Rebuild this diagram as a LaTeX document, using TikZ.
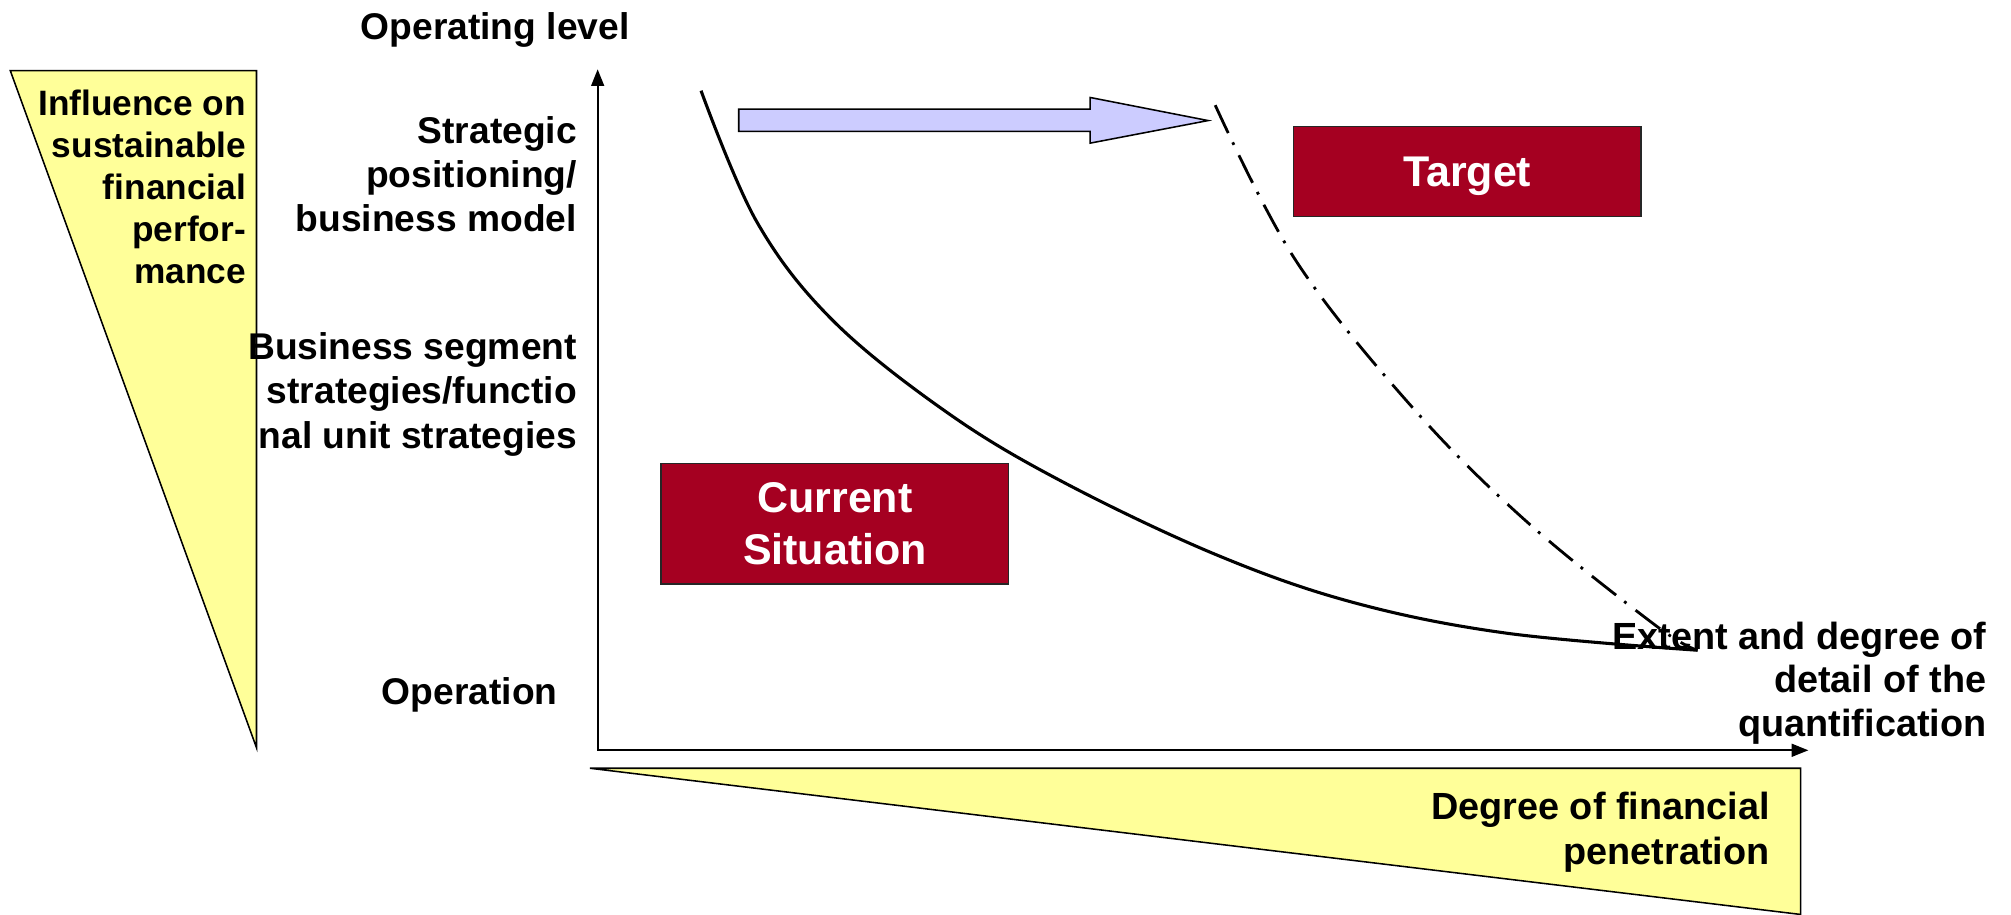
\documentclass[tikz,border=0pt]{standalone}
\usepackage{fontspec}
\setmainfont{Liberation Sans}
\usetikzlibrary{arrows.meta}
\definecolor{paleyellow}{HTML}{FFFF99}
\definecolor{boxred}{HTML}{A50021}
\definecolor{lavender}{HTML}{CCCCFF}
\begin{document}
\begin{tikzpicture}[x=1pt,y=-1pt,
  lbl/.style={font=\bfseries\fontsize{29}{34.5}\selectfont, inner sep=0pt, align=right, anchor=east},
  wedge/.style={draw=black, line width=1.2pt, fill=paleyellow, line join=miter},
  redbox/.style={draw=black!85, line width=1.1pt, fill=boxred, text=white,
    font=\bfseries\fontsize{33.5}{41}\selectfont, align=center, inner sep=0pt},
  axis/.style={line width=1.5pt, {Triangle[length=13pt,width=10pt]}-{Triangle[length=13pt,width=10pt]}},
  curve/.style={line width=2.4pt, line cap=butt},
  dashdot/.style={curve, line width=2.2pt, dash pattern=on 24pt off 8pt on 2.2pt off 9pt},
  arrowshape/.style={draw=black, line width=1.2pt, fill=lavender, line join=miter},
]
\useasboundingbox (0,0) rectangle (1568,713);

% yellow wedges
\draw[wedge] (8,55) -- (200,55) -- (200,583) -- cycle;
\draw[wedge] (460,599) -- (1404,599) -- (1404,713) -- cycle;

% axes
\coordinate (ytip) at (466,54);
\coordinate (O) at (466,585);
\coordinate (xtip) at (1410,585);
\draw[axis] (ytip) -- (O) -- (xtip);

% shift arrow
\draw[arrowshape] (576,85) -- (850,85) -- (850,76) -- (942,94) -- (850,111.6) -- (850,102.4) -- (576,102.4) -- cycle;

% boxes
\node[redbox, minimum width=271pt, minimum height=70pt, text depth=0pt] (target) at (1144,133.7) {Target};
\node[redbox, minimum width=271pt, minimum height=94pt] (current) at (651,408.2) {Current\\Situation};

% curves
\coordinate (meet) at (1323.6,507);
\draw[curve] plot[smooth, tension=0.6] coordinates {(546.6,70.7) (590,172.8) (649.5,250) (739,322) (828.6,375.7) (948,432.4) (1055,469.7) (1174,493.6) (1323.6,507)};
\draw[dashdot] plot[smooth, tension=0.6] coordinates {(947.5,82) (1010,202.6) (1099.8,316) (1189,405.5) (1290.8,487.6) (1323.6,507)};

% labels
\node[lbl, anchor=center] (oplevel) at (386,23.5) {Operating level};
\node[lbl] (strategic) at (450,135.8) {Strategic\\positioning/\\business model};
\node[lbl] (segment) at (450,307.5) {Business segment\\strategies/functio\\nal unit strategies};
\node[lbl] (operation) at (435,542) {Operation};
\node[lbl, font=\bfseries\fontsize{27.5}{32.7}\selectfont] (influence) at (192,145.7) {Influence on\\sustainable\\financial\\perfor-\\mance};
\node[lbl, font=\bfseries\fontsize{29.5}{35}\selectfont] (penetration) at (1380,649) {Degree of financial\\penetration};
\node[lbl, font=\bfseries\fontsize{29.5}{34}\selectfont] (extent) at (1549,532.5) {Extent and degree of\\detail of the\\quantification};
\end{tikzpicture}
\end{document}
